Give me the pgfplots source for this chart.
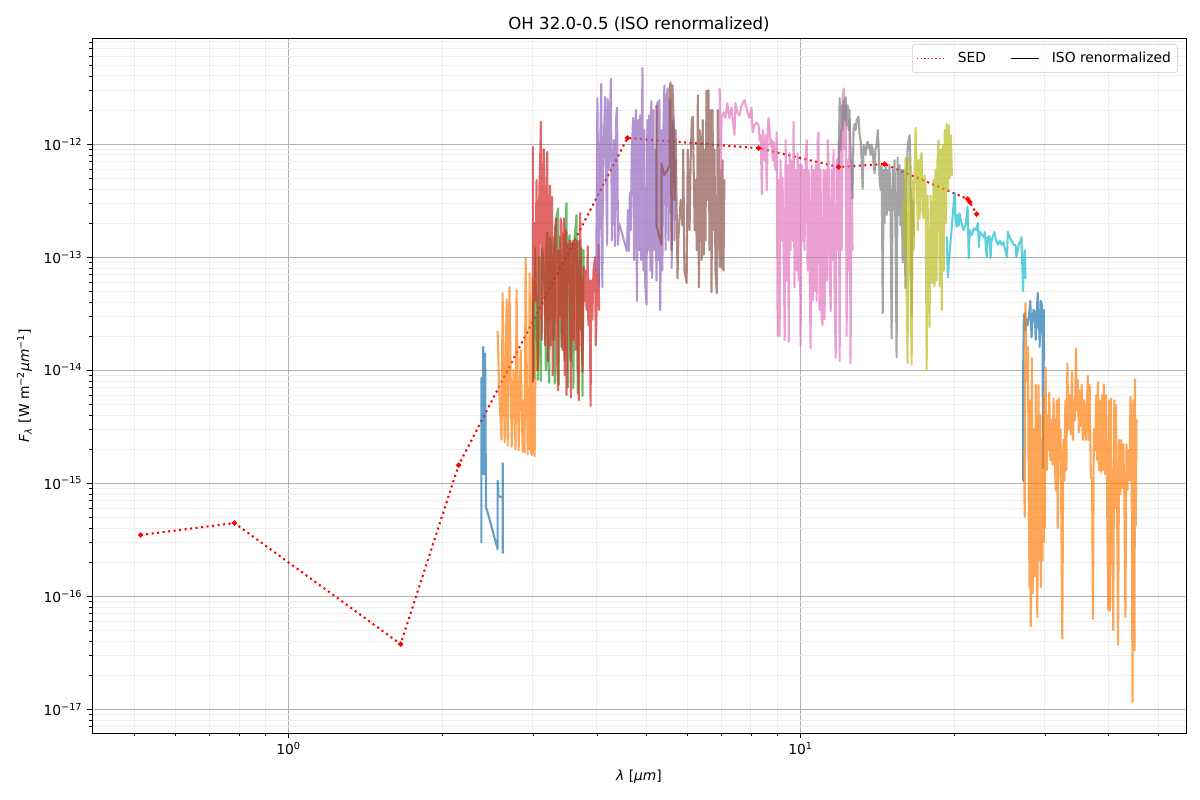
\documentclass[border=0pt]{standalone}
\usepackage{fontspec}
\setmainfont{DejaVu Sans}
\usepackage{pgfplots}
\pgfplotsset{compat=1.18}
\definecolor{c0}{HTML}{1F77B4}
\definecolor{c1}{HTML}{FF7F0E}
\definecolor{c2}{HTML}{2CA02C}
\definecolor{c3}{HTML}{D62728}
\definecolor{c4}{HTML}{9467BD}
\definecolor{c5}{HTML}{8C564B}
\definecolor{c6}{HTML}{E377C2}
\definecolor{c7}{HTML}{7F7F7F}
\definecolor{c8}{HTML}{BCBD22}
\definecolor{c9}{HTML}{17BECF}
\newcommand\dec[1]{10\textsuperscript{#1}}
\pgfplotsset{iso/.style={draw=#1,draw opacity=0.7,line width=1.5pt,line join=round,line cap=round,no markers,forget plot}}
\begin{document}
\begin{tikzpicture}
\path[use as bounding box] (-0.92in,-0.67in) rectangle (11.08in,7.33in);
\begin{axis}[
  at={(0,0)},anchor=south west,scale only axis,width=10.94in,height=6.95in,
  xmode=log,ymode=log,
  xmin=0.4130,xmax=56.6,ymin=6.14e-18,ymax=8.67e-12,
  xtick={1,10},xticklabels={\dec{0},\dec{1}},
  minor xtick={0.5,0.6,0.7,0.8,0.9,2,3,4,5,6,7,8,9,20,30,40,50},
  ytick={1e-17,1e-16,1e-15,1e-14,1e-13,1e-12},
  yticklabels={\dec{−17},\dec{−16},\dec{−15},\dec{−14},\dec{−13},\dec{−12}},
  minor ytick={7e-18,8e-18,9e-18,2e-17,3e-17,4e-17,5e-17,6e-17,7e-17,8e-17,9e-17,2e-16,3e-16,4e-16,5e-16,6e-16,7e-16,8e-16,9e-16,2e-15,3e-15,4e-15,5e-15,6e-15,7e-15,8e-15,9e-15,2e-14,3e-14,4e-14,5e-14,6e-14,7e-14,8e-14,9e-14,2e-13,3e-13,4e-13,5e-13,6e-13,7e-13,8e-13,9e-13,2e-12,3e-12,4e-12,5e-12,6e-12,7e-12,8e-12},
  grid=both,
  major grid style={color=black!31,line width=0.7pt},
  minor grid style={color=black!7,line width=0.7pt},
  tick align=outside,
  major tick length=3.5pt,minor tick length=2pt,
  every tick/.style={black,line width=0.7pt},
  minor tick style={black,line width=0.5pt},
  axis line style={line width=0.65pt},
  tick pos=left,
  tick label style={font=\fontsize{10}{12}\selectfont},
  xlabel={\textit{λ} [\textit{μm}]},
  ylabel={\textit{F}\textsubscript{\textit{λ}} [W m\textsuperscript{−2}\textit{μm}\textsuperscript{−1}]},
  label style={font=\fontsize{10}{12}\selectfont},
  xlabel style={yshift=-3.6pt},
  ylabel style={yshift=1.4pt},
  title={OH 32.0-0.5 (ISO renormalized)},
  title style={font=\fontsize{12}{14}\selectfont,yshift=-4.6pt},
  legend columns=2,
  legend image code/.code={\draw[#1](0pt,0pt)--(0.28in,0pt);},
  legend style={at={(0.9927,0.9914)},anchor=north east,draw=black!20,fill=white,fill opacity=0.8,text opacity=1,rounded corners=2pt,inner ysep=3.7pt,font=\fontsize{10}{12}\selectfont,/tikz/every even column/.style={column sep=15.5pt},/tikz/every odd column/.style={column sep=7pt}},
  legend cell align=left,
]
\addplot[red,line width=1.5pt,dash pattern=on 1.5pt off 2.5pt,forget plot,mark=*,mark size=1pt,mark options={solid,fill=red,draw=red}] coordinates {(0.514,3.47e-16)(0.784,4.43e-16)(1.655,3.76e-17)(2.148,1.44e-15)(4.59,1.13e-12)(8.28,9.2e-13)(11.86,6.26e-13)(14.59,6.65e-13)(21.2,3.26e-13)(21.4,3.07e-13)(22.07,2.4e-13)};
\addlegendimage{red,line width=0.75pt,dash pattern=on 1pt off 1.65pt}
\addlegendentry{SED}
\addlegendimage{black,line width=0.8pt}
\addlegendentry{ISO renormalized}
% band 1
\addplot[iso=c0] coordinates {(2.38,3e-16)(2.38,8.5e-15)(2.40,1.2e-15)(2.40,1.6e-14)(2.41,1.2e-15)(2.42,1.4e-14)(2.43,6e-16)(2.44,5.8e-16)(2.56,2.6e-16)(2.56,1.05e-15)(2.57,7.7e-16)(2.62,7.4e-16)(2.62,1.5e-15)(2.62,2.4e-16)};
% band 2
\addplot[iso=c1] coordinates {(2.56,2.2e-14)(2.58,6e-15)(2.606,2.4e-15)(2.618,4.8e-14)(2.642,2.3e-15)(2.666,4.2e-14)(2.678,2.15e-15)(2.70,5.4e-14)(2.727,2.1e-15)(2.75,1e-14)(2.775,2e-15)(2.788,5.1e-14)(2.814,1.95e-15)(2.84,1.5e-14)(2.865,1.9e-15)(2.878,5.4e-15)(2.89,1.85e-15)(2.904,9.8e-14)(2.93,1.8e-15)(2.94,5e-15)(2.95,2e-15)(2.956,7.2e-14)(2.97,2e-15)(2.983,1.77e-15)(2.997,6.6e-14)(3.01,2e-15)(3.024,1.73e-15)(3.04,3e-14)(3.05,1e-14)};
% band 3
\addplot[iso=c2] coordinates {(3.00,4.1e-14)(3.014,8.5e-15)(3.03,1.2e-13)(3.04,5e-14)(3.07,8.2e-15)(3.085,1e-13)(3.10,7.6e-14)(3.11,8e-15)(3.125,1.2e-13)(3.14,1.05e-13)(3.17,4.1e-14)(3.18,1e-14)(3.19,1.2e-13)(3.20,1.65e-13)(3.215,1.2e-14)(3.23,7.7e-15)(3.24,1.5e-13)(3.25,1.4e-13)(3.28,1.85e-14)(3.295,1.5e-13)(3.31,7.6e-15)(3.325,1.8e-13)(3.34,2.35e-13)(3.36,2.7e-13)(3.37,7.4e-15)(3.385,1.5e-13)(3.40,9.3e-14)(3.415,1.6e-14)(3.43,3.4e-14)(3.445,1.6e-13)(3.46,1.2e-14)(3.48,2.6e-13)(3.49,3e-13)(3.51,7e-15)(3.525,1.4e-13)(3.54,1.57e-13)(3.555,1.2e-14)(3.57,2.25e-14)(3.585,1.3e-13)(3.60,6.9e-15)(3.62,1.5e-13)(3.64,2e-13)(3.65,2.35e-13)(3.67,6.2e-15)(3.685,1.2e-13)(3.70,1.4e-13)(3.72,2.25e-14)(3.735,1.2e-13)(3.75,5.9e-15)(3.77,1.15e-13)};
% band 4
\addplot[iso=c3] coordinates {(3.00,9.4e-13)(3.00,7.9e-15)(3.015,2e-13)(3.03,4.1e-14)(3.05,4.8e-13)(3.07,1e-14)(3.085,3e-13)(3.10,7.2e-13)(3.11,1.57e-12)(3.12,1.85e-14)(3.13,5e-14)(3.14,3.2e-13)(3.15,9e-13)(3.16,8e-14)(3.17,1.65e-14)(3.185,4e-13)(3.20,8.5e-13)(3.21,1.2e-14)(3.225,2e-13)(3.24,4.3e-13)(3.25,1.65e-14)(3.26,1.5e-13)(3.27,3.4e-13)(3.28,9e-15)(3.29,1.2e-13)(3.30,1.85e-14)(3.315,1.8e-13)(3.33,2.2e-13)(3.345,1.2e-14)(3.36,6.6e-15)(3.37,1.15e-13)(3.385,3e-14)(3.40,2.2e-13)(3.415,2e-14)(3.43,1.5e-14)(3.44,1.8e-13)(3.45,2.2e-13)(3.46,9e-15)(3.47,1.5e-13)(3.48,1.73e-13)(3.49,6e-15)(3.51,1.3e-13)(3.53,7.6e-14)(3.54,1.4e-13)(3.55,2e-14)(3.56,5.7e-15)(3.575,1.3e-13)(3.59,1.4e-13)(3.60,1.85e-14)(3.61,1.1e-13)(3.62,1.4e-13)(3.64,1.5e-14)(3.66,1.4e-13)(3.675,1.2e-14)(3.69,5.4e-15)(3.71,2.45e-13)(3.73,4.1e-14)(3.75,9.6e-15)(3.77,8.2e-14)(3.79,4.1e-14)(3.80,7.6e-14)(3.82,3.4e-14)(3.84,1.25e-13)(3.85,2.5e-14)(3.87,6.2e-14)(3.89,4.8e-15)(3.90,6.2e-14)(3.92,2.8e-14)(3.94,7.6e-14)(3.97,1e-13)(3.98,1.65e-14)(4.00,4.1e-14)(4.03,1.28e-13)(4.04,3.4e-14)};
% band 5
\addplot[iso=c4] coordinates {(3.99,7.6e-14)(4.01,2.55e-12)(4.04,5.6e-14)(4.06,8.9e-13)(4.08,3.4e-12)(4.10,5.4e-14)(4.11,4.8e-13)(4.15,2.6e-12)(4.19,1.28e-13)(4.20,2.5e-12)(4.22,5.9e-13)(4.26,3.8e-12)(4.28,1.4e-13)(4.32,1.08e-12)(4.34,1.25e-13)(4.36,1.63e-12)(4.38,2.1e-12)(4.40,1.28e-13)(4.42,2e-13)(4.58,1.13e-13)(4.60,2.6e-13)(4.62,1.13e-13)(4.64,3.7e-13)(4.66,1.73e-13)(4.68,8.9e-13)(4.71,1.7e-12)(4.73,9.4e-14)(4.75,1.33e-12)(4.77,2e-12)(4.79,4.1e-14)(4.82,1.63e-12)(4.84,1.15e-13)(4.86,1.8e-12)(4.88,9.4e-14)(4.91,4.7e-12)(4.93,7.6e-14)(4.95,1.33e-12)(4.97,6.2e-14)(5.00,3.8e-14)(5.02,1.63e-12)(5.04,1.15e-13)(5.06,1.8e-12)(5.09,7.6e-14)(5.11,2.4e-12)(5.13,6.5e-14)(5.16,2e-12)(5.18,1.15e-13)(5.20,8.9e-13)(5.23,6.2e-14)(5.25,2.35e-12)(5.28,9.4e-14)(5.30,2.45e-12)(5.32,3.4e-14)(5.35,1.33e-12)(5.37,7.6e-14)(5.40,1.63e-12)(5.42,3.3e-12)(5.45,1.15e-13)(5.47,2.45e-12)(5.50,3.1e-12)(5.52,1.4e-13)(5.55,2e-12)(5.57,2.45e-12)(5.60,8e-14)(5.62,1.33e-12)(5.65,1.63e-12)(5.67,1.4e-13)(5.70,7.2e-13)};
% band 6
\addplot[iso=c5] coordinates {(5.23,2.2e-12)(5.23,1.9e-13)(5.35,1.28e-13)(5.35,6.7e-13)(5.42,5.3e-13)(5.50,5.9e-13)(5.55,6.5e-13)(5.55,3e-12)(5.57,3.5e-12)(5.60,1.15e-13)(5.62,3.3e-12)(5.65,1.63e-12)(5.67,3.2e-13)(5.70,1.33e-12)(5.75,6.5e-14)(5.77,1.4e-13)(5.83,3.2e-13)(5.88,1.9e-13)(5.90,8.9e-13)(5.93,7.6e-14)(5.99,5.9e-14)(6.02,8.9e-13)(6.07,1.73e-13)(6.10,7.2e-13)(6.13,1.63e-12)(6.16,1.75e-12)(6.21,1.73e-13)(6.24,4.8e-13)(6.27,1.15e-13)(6.30,2.7e-12)(6.33,5.4e-14)(6.35,1.33e-12)(6.38,1.08e-12)(6.41,9.4e-14)(6.44,1.63e-12)(6.47,1.05e-13)(6.49,8.9e-13)(6.52,1.4e-13)(6.55,2.95e-12)(6.58,3.2e-13)(6.61,3e-12)(6.64,1.15e-13)(6.67,2e-12)(6.70,4.9e-14)(6.73,2e-12)(6.76,1.73e-13)(6.79,8.9e-13)(6.82,7.6e-14)(6.86,4.8e-14)(6.89,2e-12)(6.92,8.9e-13)(6.95,8.2e-14)(6.98,5.9e-13)(7.01,8e-14)(7.04,7.2e-13)(7.07,7.6e-14)(7.10,4.8e-13)};
% band 7
\addplot[iso=c6] coordinates {(6.95,3.1e-12)(6.98,5.1e-13)(7.01,1.7e-12)(7.07,1.9e-12)(7.13,1.7e-12)(7.19,2.3e-12)(7.26,1.7e-12)(7.33,2.1e-12)(7.39,1.47e-12)(7.43,1.2e-12)(7.46,2.3e-12)(7.53,1.9e-12)(7.6,1.8e-12)(7.67,2.2e-12)(7.77,2.45e-12)(7.88,1.9e-12)(7.95,1.7e-12)(8.02,2.1e-12)(8.06,1.27e-12)(8.13,1.47e-12)(8.2,1.55e-12)(8.28,1.47e-12)(8.32,1.08e-12)(8.36,1.2e-12)(8.4,3.6e-13)(8.44,1.33e-12)(8.47,8.9e-13)(8.51,7.2e-13)(8.55,1.2e-12)(8.59,3.9e-13)(8.63,1.47e-12)(8.66,1.7e-12)(8.7,1.33e-12)(8.74,9.6e-13)(8.78,1.08e-12)(8.82,7.2e-13)(8.86,1.05e-12)(8.9,6.5e-13)(8.94,5.9e-13)(8.98,1.27e-12)(9.02,2e-14)(9.06,4.8e-13)(9.1,2e-14)(9.14,7.2e-13)(9.18,1.4e-13)(9.22,5e-13)(9.27,9.4e-14)(9.31,1.85e-14)(9.35,1.08e-12)(9.39,6.2e-14)(9.44,6.5e-13)(9.48,1.78e-14)(9.52,8.3e-13)(9.56,1.15e-13)(9.61,7.2e-13)(9.65,1.4e-13)(9.69,1.57e-12)(9.73,5.4e-14)(9.78,5.9e-13)(9.82,7.6e-14)(9.87,8.3e-13)(9.91,6.2e-14)(9.95,6.5e-13)(10.0,1.65e-14)(10.05,6.5e-13)(10.09,1.4e-13)(10.14,5.9e-13)(10.18,1.15e-13)(10.23,7.2e-13)(10.28,1.08e-12)(10.32,7.6e-14)(10.37,5.9e-13)(10.41,9.4e-14)(10.46,1.57e-14)(10.51,6.5e-13)(10.56,4.1e-14)(10.6,5.9e-13)(10.65,5e-14)(10.7,6.5e-13)(10.75,4.1e-14)(10.8,1.08e-12)(10.84,1.27e-12)(10.89,3.4e-14)(10.94,5.9e-13)(10.99,2.8e-14)(11.04,2.5e-14)(11.09,5.9e-13)(11.14,2.8e-14)(11.2,5.9e-13)(11.25,6.2e-14)(11.3,1.08e-12)(11.35,5.9e-13)(11.39,7.6e-14)(11.45,3.3e-14)(11.5,5.9e-13)(11.55,9.4e-14)(11.6,8.9e-13)(11.65,5e-14)(11.71,1.28e-14)(11.76,7.2e-13)(11.81,1.15e-13)(11.87,1.08e-12)(11.92,1.2e-14)(11.97,1.33e-12)(12.03,1.15e-13)(12.08,2.45e-12)(12.14,3.1e-12)(12.19,8.9e-13)(12.25,2.2e-12)(12.3,2e-14)(12.36,7.2e-13)(12.41,7.6e-14)(12.46,1.63e-12)(12.52,1.15e-14)(12.58,7.2e-13)(12.63,1.15e-13)};
% band 8
\addplot[iso=c7] coordinates {(11.87,6.5e-13)(11.92,2.55e-12)(11.97,8.9e-13)(12.03,2.2e-12)(12.08,1.33e-12)(12.14,2.45e-12)(12.19,1.63e-12)(12.25,2.6e-12)(12.3,1.47e-12)(12.36,2.2e-12)(12.41,1.33e-12)(12.46,2e-12)(12.52,8.9e-13)(12.58,5.9e-13)(12.63,3.3e-13)(12.69,1.33e-12)(12.75,1.5e-12)(12.81,1.33e-12)(12.87,1.63e-12)(12.98,1.75e-12)(13.04,1.2e-12)(13.1,1.08e-12)(13.16,7.2e-13)(13.22,4e-13)(13.28,9.8e-13)(13.34,8.9e-13)(13.4,8e-13)(13.46,9.8e-13)(13.52,1.05e-12)(13.58,9.2e-13)(13.64,9.8e-13)(13.7,8e-13)(13.76,9.8e-13)(13.83,8.9e-13)(13.89,6.5e-13)(13.95,5.5e-13)(14.0,8.9e-13)(14.08,9.8e-13)(14.15,1.33e-12)(14.21,8.9e-13)(14.27,4.8e-13)(14.34,3.9e-13)(14.4,6.5e-13)(14.47,3.2e-14)(14.53,5.9e-13)(14.59,2e-13)(14.66,6.5e-13)(14.73,2.35e-13)(14.79,5.9e-13)(14.86,2.6e-13)(14.92,6.5e-13)(14.99,2.35e-13)(15.06,1.9e-14)(15.13,5.9e-13)(15.2,2.6e-13)(15.26,7.2e-13)(15.33,1.4e-13)(15.4,1.3e-14)(15.47,7.6e-13)(15.54,2.35e-13)(15.6,6.5e-13)(15.67,1.9e-13)(15.75,5.9e-13)(15.82,8.9e-14)(15.89,5.9e-13)(15.96,1.73e-13)(16.03,5.3e-14)(16.1,5.3e-13)(16.18,8.9e-13)(16.25,1.08e-12)(16.33,1.2e-12)(16.4,5.9e-13)(16.48,3e-14)(16.55,3.2e-13)(16.63,1.57e-13)};
% band 9
\addplot[iso=c8] coordinates {(15.89,3.2e-13)(15.96,1.15e-13)(16.03,7.5e-13)(16.1,6.2e-14)(16.18,1.15e-14)(16.25,7.2e-13)(16.33,7.6e-13)(16.4,6.2e-14)(16.48,1.12e-14)(16.55,4.8e-13)(16.63,1.15e-13)(16.7,5.9e-13)(16.78,1.4e-12)(16.87,4.8e-13)(16.94,1.73e-13)(17.0,7.2e-13)(17.08,2.2e-13)(17.16,8e-13)(17.24,8.3e-13)(17.31,2.4e-13)(17.39,2.2e-13)(17.47,5.3e-13)(17.55,3.9e-13)(17.63,1e-14)(17.7,3.5e-13)(17.79,6.2e-14)(17.86,2.4e-14)(17.95,3.5e-13)(18.03,6.2e-14)(18.1,5.9e-14)(18.18,4.8e-13)(18.26,5.5e-14)(18.35,5.9e-13)(18.43,6.2e-14)(18.51,7.2e-13)(18.6,1.08e-12)(18.7,5.5e-14)(18.78,8.9e-13)(18.87,3.4e-14)(18.95,9.8e-13)(19.04,7.6e-14)(19.13,1.33e-12)(19.22,2e-13)(19.3,1.5e-12)(19.4,3.9e-13)(19.48,1.47e-12)(19.57,5e-13)(19.66,1.2e-12)(19.75,5.3e-13)};
% band 10
\addplot[iso=c9] coordinates {(19.3,1.5e-13)(19.4,6.6e-14)(19.48,8.9e-14)(19.57,1.15e-13)(19.75,1.9e-13)(19.93,3.2e-13)(20.0,3.7e-13)(20.09,2.1e-13)(20.18,1.85e-13)(20.27,2.35e-13)(20.36,1.9e-13)(20.44,2.45e-13)(20.62,2e-13)(20.81,1.73e-13)(21.0,1.9e-13)(21.2,2.8e-13)(21.3,9.8e-14)(21.4,1.73e-13)(21.6,1.57e-13)(21.8,1.8e-13)(22.0,1.73e-13)(22.2,2e-13)(22.3,1.23e-13)(22.4,1.67e-13)(22.6,1.57e-13)(22.8,1.5e-13)(22.9,1.67e-13)(23.1,1e-13)(23.2,1.5e-13)(23.4,1.53e-13)(23.5,9.8e-14)(23.6,1.4e-13)(23.9,1.67e-13)(24.1,1.4e-13)(24.3,1.28e-13)(24.5,1.4e-13)(24.7,1.28e-13)(24.9,1.35e-13)(25.3,1e-13)(25.4,1.67e-13)(25.6,1.5e-13)(25.8,1.4e-13)(26.1,1.28e-13)(26.3,1.28e-13)(26.4,1e-13)(26.7,1.3e-13)(26.9,1.4e-13)(27.0,1.5e-13)(27.2,5e-14)(27.3,8.9e-14)(27.4,1.15e-13)(27.5,6.5e-14)};
% band 11
\addplot[iso=c0] coordinates {(27.2,1.05e-15)(27.2,8.9e-15)(27.3,3e-14)(27.4,3.2e-14)(27.5,2.25e-14)(27.65,2.8e-14)(27.75,2.5e-14)(27.9,2.9e-14)(28.0,3.4e-14)(28.1,4.1e-14)(28.25,1.95e-14)(28.4,2.8e-14)(28.5,3.4e-14)(28.65,3.3e-14)(28.8,1.85e-14)(28.9,2.8e-14)(29.05,4.8e-14)(29.2,2.25e-14)(29.25,3.4e-14)(29.3,1.6e-14)(29.45,4.1e-14)(29.6,3.8e-14)(29.7,1.85e-14)(29.75,1.35e-15)(29.85,3.4e-14)(29.9,1.2e-14)};
% band 12
\addplot[iso=c1] coordinates {(27.3,1.95e-15)(27.4,5e-16)(27.5,3.9e-14)(27.65,8.2e-15)(27.8,1.6e-14)(27.9,8.2e-16)(28.0,1.2e-16)(28.15,5.4e-15)(28.15,5.4e-17)(28.3,1.28e-14)(28.4,1.05e-16)(28.5,3e-15)(28.65,1.5e-16)(28.8,7.4e-15)(28.9,4.7e-16)(29.0,6.5e-17)(29.15,7.4e-15)(29.3,2.05e-16)(29.38,4e-15)(29.45,1.2e-16)(29.6,2.4e-15)(29.7,2.05e-16)(29.8,5.9e-15)(29.85,3e-16)(29.95,4e-15)(30.0,4e-16)(30.1,1.05e-14)(30.25,1.3e-15)(30.4,4e-15)(30.5,1.95e-15)(30.6,6.3e-15)(30.75,1.6e-15)(30.9,3.6e-15)(31.05,1.45e-15)(31.2,5.6e-15)(31.35,1.8e-15)(31.5,8.7e-16)(31.65,5.4e-15)(31.8,4e-16)(31.95,5.6e-15)(32.1,1.6e-15)(32.2,3e-15)(32.45,4.2e-17)(32.6,2.4e-15)(32.75,1.05e-15)(32.9,5.4e-15)(33.05,1.3e-15)(33.2,1.15e-14)(33.35,3e-15)(33.5,6e-15)(33.7,2.7e-15)(33.9,9.6e-15)(34.05,2.4e-15)(34.2,5.4e-15)(34.35,3.6e-15)(34.5,1.55e-14)(34.65,4.4e-15)(34.8,8.2e-15)(34.95,2.8e-15)(35.1,6.6e-15)(35.25,3.2e-15)(35.4,7.4e-15)(35.6,2.4e-15)(35.8,5.4e-15)(35.95,3e-15)(36.1,2.4e-15)(36.25,5.4e-15)(36.4,8.9e-15)(36.55,2.4e-15)(36.7,7.4e-15)(36.9,1.1e-15)(37.1,1.1e-15)(37.25,6.3e-17)(37.4,3e-15)(37.6,1.95e-15)(37.8,6e-15)(37.95,1.6e-15)(38.1,7.8e-15)(38.25,1.3e-15)(38.4,5.4e-15)(38.6,1.25e-15)(38.8,6e-15)(38.95,1.3e-15)(39.1,7.4e-15)(39.3,1.2e-15)(39.5,6e-15)(39.7,7e-16)(39.9,7.6e-17)(40.05,5.4e-15)(40.2,7.4e-17)(40.3,3e-16)(40.4,5.6e-15)(40.5,2.5e-16)(40.6,1.3e-15)(40.8,5e-17)(41,5.4e-15)(41.15,6e-16)(41.3,4.9e-15)(41.5,9e-16)(41.7,3.7e-17)(41.9,2.4e-15)(42.1,8e-16)(42.3,2.4e-15)(42.5,9e-16)(42.7,2.2e-15)(42.9,7e-16)(43.1,6.5e-17)(43.3,2.2e-15)(43.5,8.7e-16)(43.7,1.95e-15)(43.9,1.05e-15)(44.1,5.8e-15)(44.3,2.4e-15)(44.5,1.15e-17)(44.7,5.4e-15)(44.9,3.3e-17)(45.0,8.3e-15)(45.15,4.2e-16)(45.3,3.6e-15)};
\end{axis}
\end{tikzpicture}
\end{document}
